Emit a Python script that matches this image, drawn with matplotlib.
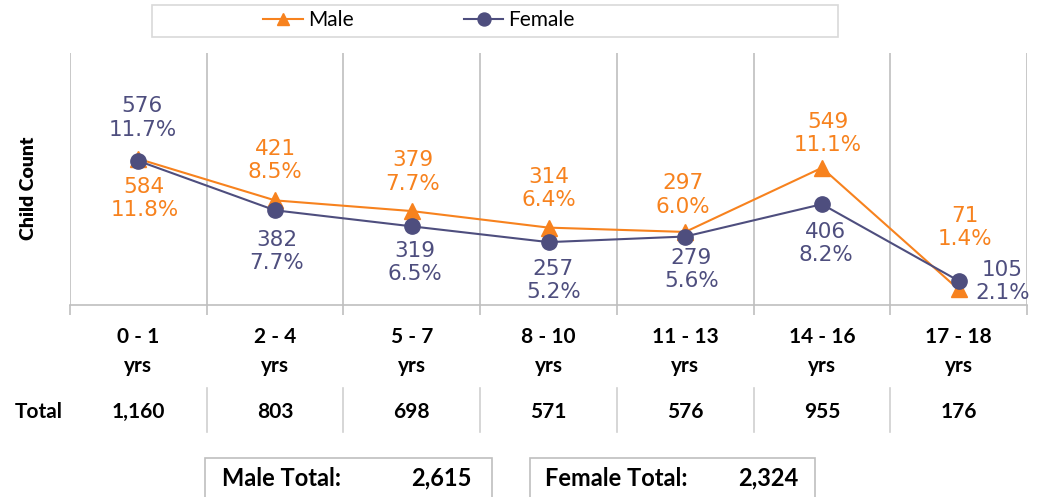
import numpy as np
import matplotlib.pyplot as plt
from matplotlib.patches import Rectangle
from matplotlib.transforms import blended_transform_factory

## data
age_groups = ["0 - 1", "2 - 4", "5 - 7", "8 - 10", "11 - 13", "14 - 16", "17 - 18"]
male = [584, 421, 379, 314, 297, 549, 71]
female = [576, 382, 319, 257, 279, 406, 105]

# label placement (pixels from the marker, +y = down on screen) -- style only
male_off = [(6, 40), (0, -40), (1, -39), (0, -39), (-2, -37), (6, -34), (6, -62)]
female_off = [(4, -43), (2, 41), (3, 36), (5, 38), (6, 33), (4, 39), (44, 1)]

c_male = "#F7821E"
c_female = "#4E4E7E"
c_grid = "#BFBFBF"
lab_font = "Lato"

grand = sum(male) + sum(female)
totals = [m + f for m, f in zip(male, female)]

## plotting
W, H = 1037, 497
fig = plt.figure(figsize=(W / 100, H / 100), dpi=100)
ax = fig.add_axes([70 / W, 1 - 305 / H, (1027 - 70) / W, (305 - 53) / H])

x = np.arange(len(age_groups))
lm, = ax.plot(x, male, color=c_male, lw=1.5, marker="^", ms=11, label="Male", zorder=3)
lf, = ax.plot(x, female, color=c_female, lw=1.5, marker="o", ms=11, label="Female", zorder=4)

ax.set_xlim(-0.5, len(age_groups) - 0.5)
ax.set_ylim(10, 1000)
ax.set_yticks([])
for s in ["top", "left", "right"]:
    ax.spines[s].set_visible(False)
ax.spines["bottom"].set_color(c_grid)
ax.spines["bottom"].set_linewidth(1.2)
bounds = np.arange(-0.5, len(age_groups), 1.0)
for b in bounds:
    ax.axvline(b, color=c_grid, lw=1.2, zorder=1)
ax.set_xticks(bounds)
ax.set_xticklabels([])
ax.tick_params(axis="x", length=7, width=1.2, color=c_grid, direction="out")

# data labels
lab_kw = dict(textcoords="offset pixels", ha="center", va="center", fontsize=15.5,
              linespacing=1.2, family="DejaVu Sans")
for i in range(len(x)):
    ax.annotate("%d\n%.1f%%" % (male[i], 100 * male[i] / grand), (x[i], male[i]),
                xytext=(male_off[i][0], -male_off[i][1]), color=c_male, **lab_kw)
    ax.annotate("%d\n%.1f%%" % (female[i], 100 * female[i] / grand), (x[i], female[i]),
                xytext=(female_off[i][0], -female_off[i][1]), color=c_female, **lab_kw)

# category labels and total row
tr = blended_transform_factory(ax.transData, ax.transAxes)
cat_kw = dict(xycoords=tr, textcoords="offset pixels", ha="center", va="center",
              fontsize=15, fontweight="bold", family=lab_font)
for i, g in enumerate(age_groups):
    ax.annotate(g, (x[i], 0), xytext=(0, -32), **cat_kw)
    ax.annotate("yrs", (x[i], 0), xytext=(0, -61), **cat_kw)
    ax.annotate(f"{totals[i]:,}", (x[i], 0), xytext=(0, -107), **cat_kw)
for b in bounds[1:-1]:
    ax.plot([b, b], [-83 / 252, -127 / 252], transform=tr, color="#D0D0D0", lw=1.2, clip_on=False)

fig.text(15 / W, 1 - 412 / H, "Total", fontsize=15, fontweight="bold", family=lab_font, va="center")
fig.text(28 / W, 1 - 188 / H, "Child Count", rotation=90, fontsize=14, fontweight="heavy",
         family=lab_font, ha="center", va="center")

# legend
fig.patches.append(Rectangle((152 / W, 1 - 37 / H), (838 - 152) / W, 32 / H, transform=fig.transFigure,
                             fill=False, edgecolor="#D9D9D9", lw=1.2))
fig.legend(handles=[lm, lf], loc="center left", bbox_to_anchor=(263 / W, 1 - 20 / H), ncol=2,
           frameon=False, borderpad=0, borderaxespad=0, handlelength=1.9, handletextpad=0.25,
           columnspacing=5.3, markerscale=0.85, prop={"family": lab_font, "size": 15})

# totals boxes
for x0, x1 in [(205, 492), (530, 815)]:
    fig.patches.append(Rectangle((x0 / W, -0.05), (x1 - x0) / W, 0.05 + 39 / H,
                                 transform=fig.transFigure, fill=False, edgecolor="#BFBFBF", lw=1.2))
tot_kw = dict(fontsize=17, fontweight="bold", family=lab_font, va="center")
fig.text(222 / W, 1 - 478 / H, "Male Total:", **tot_kw)
fig.text(472 / W, 1 - 478 / H, f"{sum(male):,}", ha="right", **tot_kw)
fig.text(545 / W, 1 - 478 / H, "Female Total:", **tot_kw)
fig.text(798 / W, 1 - 478 / H, f"{sum(female):,}", ha="right", **tot_kw)

fig.savefig("out.png", dpi=100)
